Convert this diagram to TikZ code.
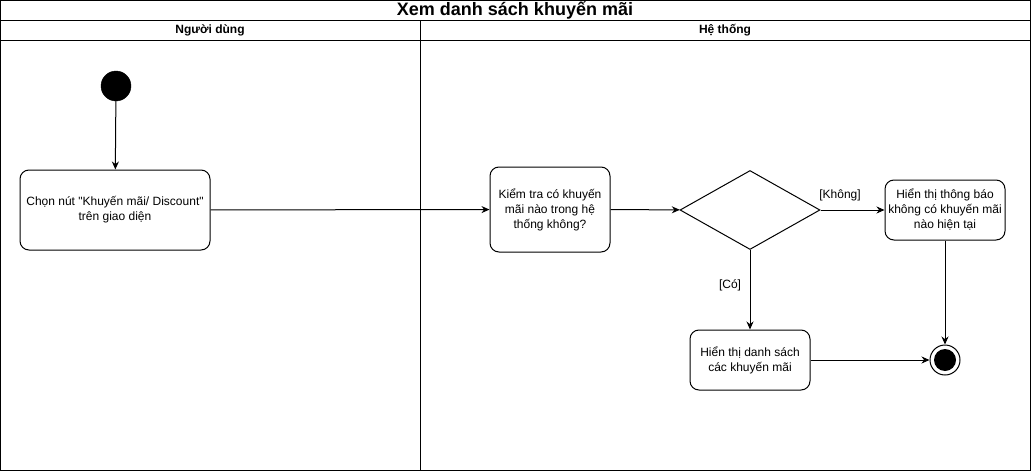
\documentclass[tikz,border=0pt]{standalone}
\usepackage{fontspec}
\setmainfont{Liberation Sans}[Ligatures=TeXOff]
\usetikzlibrary{arrows.meta,shapes.geometric}

\tikzset{
  lane/.style={line width=1pt},
  action/.style={draw,line width=1pt,rounded corners=9pt,align=center,inner sep=2pt,font=\fontsize{12}{15}\selectfont},
  decision/.style={draw,line width=1pt,diamond,minimum width=140pt,minimum height=79pt,inner sep=0pt,aspect=1.77},
  flow/.style={-{Stealth[length=8pt,width=7pt]},line width=1pt},
  guard/.style={font=\fontsize{12}{15}\selectfont},
  header/.style={font=\bfseries\fontsize{12}{14}\selectfont}
}

\begin{document}
\begin{tikzpicture}[x=1pt,y=-1pt]
\useasboundingbox (0,0) rectangle (1031,471);
% swimlane frame
\draw[lane] (0.5,0.5) rectangle (1030.5,470.5);
\draw[lane] (0.5,20) -- (1030.5,20);
\draw[lane] (0.5,40) -- (1030.5,40);
\draw[lane] (420,20) -- (420,470.5);
\node[font=\bfseries\fontsize{18}{19}\selectfont] (title) at (515,10.5) {Xem danh sách khuyến mãi};
\node[header] (user) at (210,30) {Người dùng};
\node[header] (sys) at (725,30) {Hệ thống};

% nodes
\node[circle,fill=black,draw,minimum size=30pt,inner sep=0pt] (start) at (116,86) {};
\node[action,minimum width=190pt,minimum height=80pt] (choose) at (115,210) {Chọn nút "Khuyến mãi/ Discount"\\trên giao diện};
\node[action,minimum width=120pt,minimum height=85pt] (check) at (550,209.5) {Kiểm tra có khuyến\\mãi nào trong hệ\\thống không?};
\node[decision] (dec) at (750,210) {};
\node[action,minimum width=120pt,minimum height=60pt] (none) at (945,210) {Hiển thị thông báo\\không có khuyến mãi\\nào hiện tại};
\node[action,minimum width=120pt,minimum height=60pt] (list) at (750,360) {Hiển thị danh sách\\các khuyến mãi};
\node[circle,draw,line width=1pt,minimum size=30pt,inner sep=0pt] (stop) at (945,360) {};
\fill (stop) circle (11pt);

% flows
\draw[flow] (start) -- (choose);
\draw[flow] (choose) -- (check);
\draw[flow] (check) -- (dec);
\draw[flow] (dec.east) -- (none.west);
\node[guard] (no) at (840,195) {[Không]};
\draw[flow] (dec.south) -- (list.north);
\node[guard] (yes) at (730,285) {[Có]};
\draw[flow] (none.south) -- (stop.north);
\draw[flow] (list.east) -- (stop.west);
\end{tikzpicture}
\end{document}
